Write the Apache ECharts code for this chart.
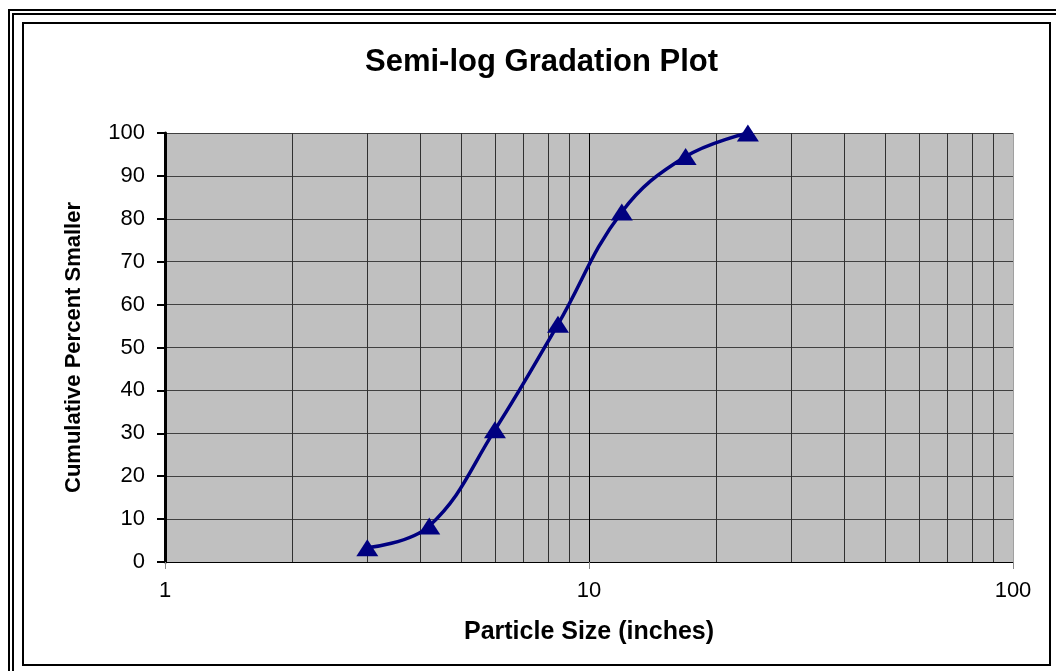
<!DOCTYPE html>
<html>
<head>
<meta charset="utf-8">
<title>Semi-log Gradation Plot</title>
<script src="https://cdn.jsdelivr.net/npm/echarts@6/dist/echarts.min.js"></script>
<style>
    html, body { margin: 0; padding: 0; background: #fff; overflow: hidden; }
    #outer { position: absolute; left: 8px; top: 9px; width: 2000px; height: 2000px; border: 6px double #000; }
    #frame { position: absolute; left: 22px; top: 22px; width: 1025px; height: 640px; border: 2px solid #000; }
    #chart { position: absolute; left: 0; top: 0; width: 1056px; height: 671px; }
</style>
</head>
<body>
<div id="outer"></div>
<div id="frame"></div>
<div id="chart"></div>
<script>
// 粒径 (inches) 和 累计通过百分比
var particleSize = [3.0, 4.2, 6.0, 8.45, 11.95, 16.9, 23.7];
var percentSmaller = [3.3, 8.4, 30.8, 55.4, 81.6, 94.5, 100];

// 对数轴上的竖向网格线位置
var logGridLines = [2, 3, 4, 5, 6, 7, 8, 9, 10, 20, 30, 40, 50, 60, 70, 80, 90, 100];

var points = [];
for (var i = 0; i < particleSize.length; i++) {
    points.push([particleSize[i], percentSmaller[i]]);
}

var vLines = [];
for (var j = 0; j < logGridLines.length; j++) {
    var v = logGridLines[j];
    var item = { xAxis: v };
    if (v == 10) item.lineStyle = { color: '#000' };
    if (v == 100) item.lineStyle = { color: '#a0a0a0' };
    vLines.push(item);
}

var myChart = echarts.init(document.getElementById('chart'));
var option = {
    animation: false,
    textStyle: { fontFamily: 'Liberation Sans, Arial, sans-serif' },
    title: {
        text: 'Semi-log Gradation Plot',
        left: 360,
        top: 42,
        textStyle: { color: '#000', fontSize: 31, fontWeight: 'bold' }
    },
    grid: {
        left: 165,
        right: 43,
        top: 133,
        bottom: 109,
        show: true,
        backgroundColor: '#c0c0c0',
        borderWidth: 0
    },
    xAxis: {
        type: 'log',
        logBase: 10,
        min: 1,
        max: 100,
        name: 'Particle Size (inches)',
        nameLocation: 'middle',
        nameGap: 58,
        nameTextStyle: { color: '#000', fontSize: 25, fontWeight: 'bold' },
        axisLine: { show: true, onZero: false, lineStyle: { color: '#000', width: 1 } },
        axisTick: { show: true, length: 7, lineStyle: { color: '#888' } },
        axisLabel: { color: '#000', fontSize: 22, margin: 18 },
        splitLine: { show: false }
    },
    yAxis: {
        type: 'value',
        min: 0,
        max: 100,
        interval: 10,
        name: 'Cumulative Percent Smaller',
        nameLocation: 'middle',
        nameGap: 80,
        nameTextStyle: { color: '#000', fontSize: 22, fontWeight: 'bold' },
        axisLine: { show: true, lineStyle: { color: '#000', width: 3 } },
        axisTick: { show: true, length: 8, lineStyle: { color: '#000', width: 2 } },
        axisLabel: { color: '#000', fontSize: 22, margin: 20 },
        splitLine: { show: true, lineStyle: { color: '#404040', width: 1 } }
    },
    series: [{
        type: 'line',
        data: points,
        smooth: 0.4,
        symbol: 'triangle',
        symbolSize: [22, 17],
        z: 3,
        lineStyle: { color: '#000080', width: 3.5 },
        itemStyle: { color: '#000080' },
        markLine: {
            silent: true,
            symbol: ['none', 'none'],
            label: { show: false },
            z: 1,
            lineStyle: { color: '#303030', width: 1, type: 'solid' },
            data: vLines
        }
    }]
};
myChart.setOption(option);
</script>
</body>
</html>
